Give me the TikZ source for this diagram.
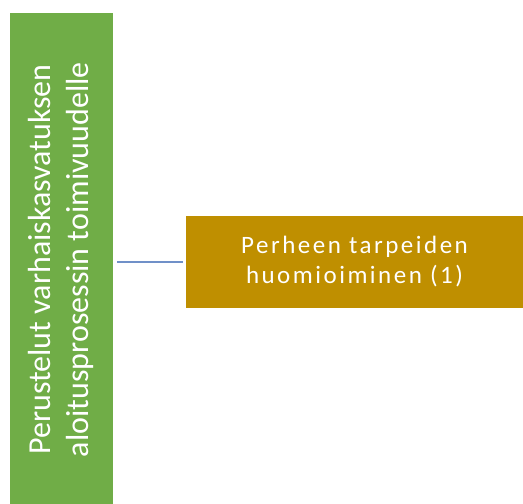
\documentclass[tikz,border=0pt]{standalone}
\usepackage{fontspec}
\setmainfont{Carlito}
\newfontfamily\boxfont[LetterSpace=10]{Carlito}
\definecolor{smgreen}{HTML}{70AD47}
\definecolor{smgold}{HTML}{BF8F00}
\definecolor{smline}{HTML}{7090C8}
\begin{document}
\begin{tikzpicture}[x=1pt,y=-1pt,
  box/.style={draw=white,line width=1pt,inner sep=0pt,text=white,align=center},
  conn/.style={draw=smline,line width=2pt}]
\useasboundingbox (0,0) rectangle (523,504);
\node[box,fill=smgreen,minimum width=104pt,minimum height=492pt,anchor=north west] (g) at (9,12) {};
\node[rotate=90,text=white,align=center,font=\fontsize{32}{38}\selectfont] (gt) at ([xshift=-1pt,yshift=-1pt]g.center) {Perustelut varhaiskasvatuksen\\aloitusprosessin toimivuudelle};
\node[box,fill=smgold,minimum width=338pt,minimum height=93pt,anchor=north west,font=\boxfont\fontsize{25}{30}\selectfont] (p) at (185,215) {Perheen tarpeiden\\huomioiminen (1)};
\draw[conn] ([xshift=3pt]g.east |- p.west) -- ([xshift=-2pt]p.west);
\end{tikzpicture}
\end{document}
